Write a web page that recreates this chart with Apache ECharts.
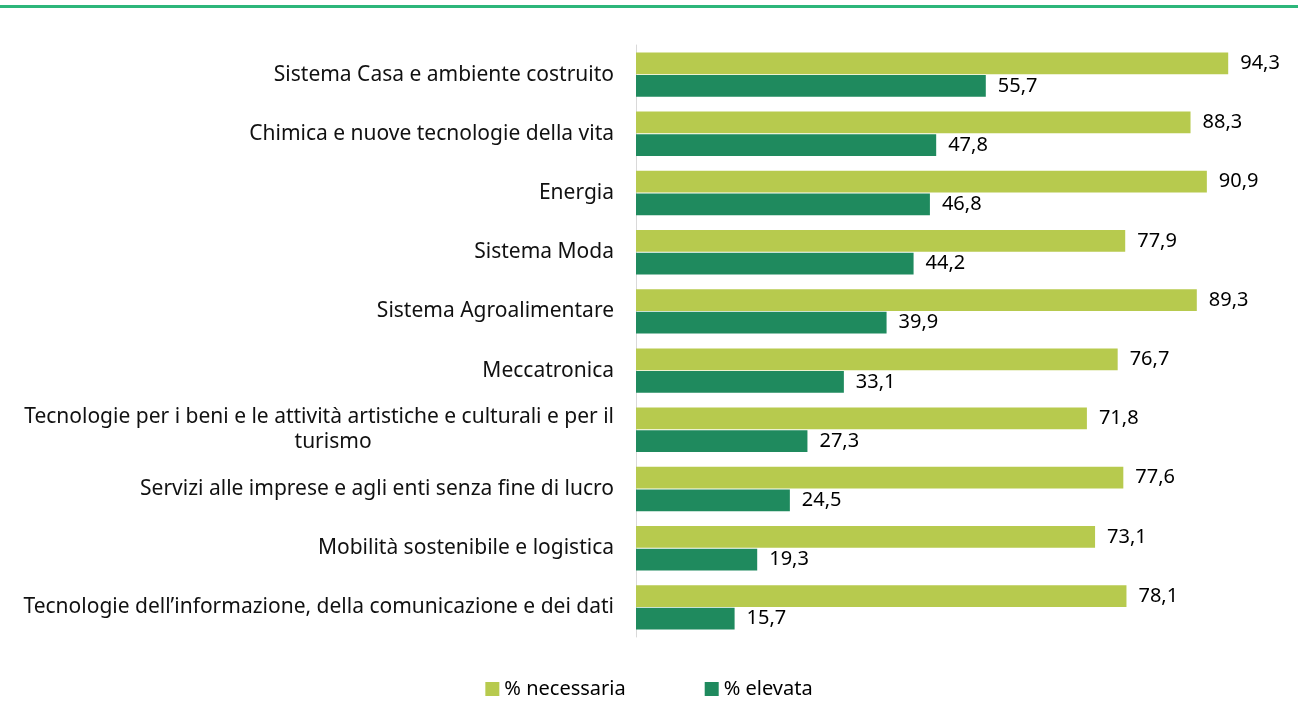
<!DOCTYPE html>
<html>
<head>
<meta charset="utf-8">
<script src="https://cdn.jsdelivr.net/npm/echarts@6/dist/echarts.min.js"></script>
<style>html,body{margin:0;padding:0;background:#fff;}#c{width:1298px;height:713px;}</style>
</head>
<body>
<div id="c"></div>
<script>
const categories = [
  'Sistema Casa e ambiente costruito',
  'Chimica e nuove tecnologie della vita',
  'Energia',
  'Sistema Moda',
  'Sistema Agroalimentare',
  'Meccatronica',
  'Tecnologie per i beni e le attività artistiche e culturali e per il\nturismo',
  'Servizi alle imprese e agli enti senza fine di lucro',
  'Mobilità sostenibile e logistica',
  'Tecnologie dell\u2019informazione, della comunicazione e dei dati'
];
const necessaria = [94.3, 88.3, 90.9, 77.9, 89.3, 76.7, 71.8, 77.6, 73.1, 78.1];
const elevata = [55.7, 47.8, 46.8, 44.2, 39.9, 33.1, 27.3, 24.5, 19.3, 15.7];
const seriesNames = ['% necessaria', '% elevata'];

const FONT = 'Noto Sans';
const chart = echarts.init(document.getElementById('c'));
const valLabel = {
  show: true, position: 'right', distance: 12,
  color: '#000', fontSize: 20, fontFamily: FONT,
  formatter: p => p.value.toFixed(1).replace('.', ',')
};
chart.setOption({
  animation: false,
  graphic: [{ type: 'rect', left: 0, top: 5, shape: { width: 1298, height: 3 }, style: { fill: '#2db67a' } }],
  grid: { left: 636, right: 34, top: 45, bottom: 76 },
  legend: {
    top: 674, left: 'center', icon: 'rect', itemWidth: 14, itemHeight: 14, itemGap: 79,
    textStyle: { fontSize: 20, fontFamily: FONT, color: '#000', padding: [0, 0, 0, 0] },
    data: seriesNames
  },
  xAxis: { type: 'value', min: 0, max: 100, show: false },
  yAxis: {
    type: 'category', inverse: true, data: categories,
    axisLine: { show: true, lineStyle: { color: '#d9d9d9', width: 1 } },
    axisTick: { show: false },
    axisLabel: {
      margin: 22, fontSize: 21, fontFamily: FONT, color: '#111', lineHeight: 25,
      formatter: v => {
        const parts = v.split('\n');
        if (parts.length > 1) return '{a|' + parts[0] + '}\n{b|' + parts[1] + '}';
        return v;
      },
      rich: {
        a: { fontSize: 21, fontFamily: FONT, color: '#111', lineHeight: 25, align: 'right' },
        b: { fontSize: 21, fontFamily: FONT, color: '#111', lineHeight: 25, align: 'center', padding: [0, 0, 0, 28] }
      }
    }
  },
  series: [
    { name: seriesNames[0], type: 'bar', data: necessaria, itemStyle: { color: '#b7ca4e' },
      barGap: '4%', barCategoryGap: '25%', label: valLabel },
    { name: seriesNames[1], type: 'bar', data: elevata, itemStyle: { color: '#1f8a5e' },
      barGap: '4%', barCategoryGap: '25%', label: valLabel }
  ]
});
</script>
</body>
</html>
